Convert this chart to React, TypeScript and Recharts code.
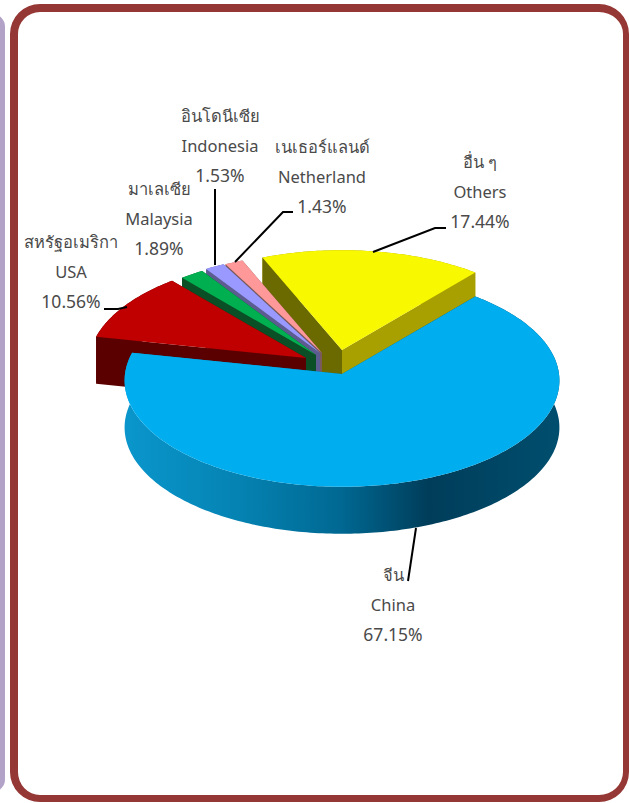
import React from "react";
import { PieChart, Pie } from "recharts";

// Data, listed from the back of the pie to the front
const categories = ["Others", "Netherland", "Indonesia", "Malaysia", "USA", "China"];
const thaiNames = ["อื่น ๆ", "เนเธอร์แลนด์", "อินโดนีเซีย", "มาเลเซีย", "สหรัฐอเมริกา", "จีน"];
const shares = [17.44, 1.43, 1.53, 1.89, 10.56, 67.15];
const shareLabels = ["17.44%", "1.43%", "1.53%", "1.89%", "10.56%", "67.15%"];

// Styles per slice
const topColors = ["#F8F800", "#FF9999", "#9999FF", "#00B050", "#C00000", "#00AEEF"];
const startWalls = ["#A8A000", "#7A5A5A", "#5C5C90", "#0B4F27", "#5A0000", "url(#chinaWall)"];
const endWalls = ["#6B6A00", "#7A5A5A", "#5C5C90", "#0B4F27", "#5A0000", "url(#chinaWall)"];
const outerWalls = ["#A8A000", "#A86A6A", "#6A6AB0", "#0B5F2D", "#5A0000", "url(#chinaWall)"];
// Explosion of each slice on the page
const explodeX = [0, -20, -22, -26, -36, 0];
const explodeY = [-24, -21, -21, -19, -16, 0];

// Label layout
const labelX = [480, 322, 220, 159, 71, 393];
const labelY = [168, 153, 122, 195, 248, 581];
const leaderLines = [
  "M373 252L435 228L446 228",
  "M235 262L283 212L293 212",
  "M215 265L215 189",
  "",
  "M127 307L118 309L104 309",
  "M416 528L408 581",
];

const PIE_CX = 342;
const PIE_CY = 374;
const RADIUS = 217;
const DEPTH = 47;
const TILT = 0.488;
const PERSPECTIVE = 0.000281;
const FONT = "'Noto Sans', 'Open Sans', 'DejaVu Sans', sans-serif";

const project = (deg: number, r: number): [number, number] => {
  const t = (deg * Math.PI) / 180;
  const u = r * Math.cos(t);
  const v = r * Math.sin(t);
  const s = 1 / (1 + v * PERSPECTIVE);
  return [u * s, -v * TILT * s];
};

const arcPoints = (a0: number, a1: number, r: number) => {
  const n = Math.max(2, Math.ceil(Math.abs(a1 - a0)));
  return Array.from({ length: n + 1 }, (_, i) => project(a0 + ((a1 - a0) * i) / n, r));
};

const toPath = (pts: number[][]) =>
  "M" + pts.map((p) => `${p[0].toFixed(2)} ${p[1].toFixed(2)}`).join("L") + "Z";

const Slice3D = (props: any) => {
  const { cx, cy, outerRadius, startAngle, endAngle, index } = props;
  const i = index ?? categories.indexOf(props.name);
  const ox = cx + explodeX[i];
  const oy = cy + explodeY[i];
  const arc = arcPoints(startAngle, endAngle, outerRadius);
  const lowered = (p: number[]) => [p[0], p[1] + DEPTH];
  const first = arc[0];
  const last = arc[arc.length - 1];
  const outer = toPath([...arc, ...arc.slice().reverse().map(lowered)]);
  const startFace = toPath([[0, 0], first, lowered(first), [0, DEPTH]]);
  const endFace = toPath([[0, 0], last, lowered(last), [0, DEPTH]]);
  const top = toPath([[0, 0], ...arc]);
  return (
    <g transform={`translate(${ox} ${oy})`}>
      <path d={outer} fill={outerWalls[i]} />
      <path d={startFace} fill={startWalls[i]} />
      <path d={endFace} fill={endWalls[i]} />
      <path d={top} fill={topColors[i]} />
    </g>
  );
};

const SliceLabel = (props: any) => {
  const i = props.index ?? categories.indexOf(props.name);
  const x = labelX[i];
  const y = labelY[i];
  const common = { x, textAnchor: "middle" as const, fontSize: 16.5, fontFamily: FONT, fill: "#4A4A4A" };
  return (
    <g>
      {leaderLines[i] ? <path d={leaderLines[i]} fill="none" stroke="#000" strokeWidth={2} /> : null}
      <text {...common} y={y}>{thaiNames[i]}</text>
      <text {...common} y={y + 30}>{categories[i]}</text>
      <text {...common} y={y + 60} fontSize={17.5}>{shareLabels[i]}</text>
    </g>
  );
};

const tableData = categories.map((name, i) => ({ name, value: shares[i], fill: topColors[i] }));

export default function App() {
  return (
    <div style={{ position: "absolute", left: 0, top: 0, width: 629, height: 803, overflow: "hidden", background: "#fff" }}>
      <div style={{ position: "absolute", left: -20, top: 14, width: 25, height: 778, background: "#B3A2C7", borderRadius: 16 }} />
      <div style={{ position: "absolute", left: 10, top: 4, width: 619, height: 798, boxSizing: "border-box", borderStyle: "solid", borderColor: "#953735", borderWidth: "8px 6px 7px 8px", borderRadius: 30 }} />
      <div style={{ position: "absolute", left: 0, top: 0 }}>
        <PieChart width={629} height={803} margin={{ top: 0, right: 0, bottom: 0, left: 0 }}>
          <defs>
            <linearGradient id="chinaWall" gradientUnits="userSpaceOnUse" x1={-218} y1={0} x2={217} y2={0}>
              <stop offset="0" stopColor="#0A96CC" />
              <stop offset="0.25" stopColor="#0584B4" />
              <stop offset="0.5" stopColor="#006892" />
              <stop offset="0.7" stopColor="#003D5A" />
              <stop offset="1" stopColor="#004E6E" />
            </linearGradient>
          </defs>
          <Pie
            data={tableData}
            dataKey="value"
            nameKey="name"
            cx={PIE_CX}
            cy={PIE_CY}
            innerRadius={0}
            outerRadius={RADIUS}
            startAngle={50}
            endAngle={410}
            stroke="none"
            isAnimationActive={false}
            shape={Slice3D}
            label={SliceLabel}
            labelLine={false}
          />
        </PieChart>
      </div>
    </div>
  );
}
